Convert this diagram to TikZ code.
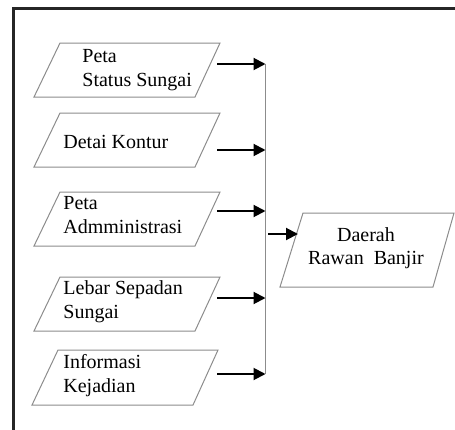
\documentclass[tikz,border=0pt]{standalone}
\usepackage{fontspec}
\setmainfont{Liberation Serif}
\usetikzlibrary{arrows.meta}
\tikzset{
  pbox/.style={draw=black!45, line width=0.5pt},
  frame/.style={draw=black!85, line width=1.1pt},
  bus/.style={draw=black!45, line width=0.5pt},
  arr/.style={draw=black, line width=1pt, -{Triangle[length=6pt,width=6pt]}},
  lbl/.style={inner sep=0pt, font=\fontsize{10}{12}\selectfont, align=left, anchor=base west},
  lblc/.style={inner sep=0pt, font=\fontsize{10}{11.5}\selectfont, align=center, anchor=base},
}
\begin{document}
\begin{tikzpicture}[x=0.5pt,y=-0.5pt]
\useasboundingbox (0,0) rectangle (455,429);
% outer frame (cropped)
\draw[frame] (456,8.5) -- (13.5,8.5) -- (13.5,430);
% input parallelograms
\draw[pbox] (60,43) -- (220,43) -- (195,97) -- (34,97) -- cycle;
\draw[pbox] (60,113) -- (220,113) -- (195,167) -- (34,167) -- cycle;
\draw[pbox] (60,192) -- (220,192) -- (195,246) -- (34,246) -- cycle;
\draw[pbox] (60,277) -- (220,277) -- (195,331) -- (34,331) -- cycle;
\draw[pbox] (58,350) -- (218,350) -- (193,405) -- (32,405) -- cycle;
% output parallelogram
\draw[pbox] (303,213) -- (454,213) -- (433,287) -- (280,287) -- cycle;
% labels (base anchor = baseline of last line)
\node[lbl] (t1) at (82,86) {Peta\\Status Sungai};
\node[lbl] (t2) at (63,148) {Detai Kontur};
\node[lbl] (t3) at (63,233) {Peta\\Admministrasi};
\node[lbl] (t4) at (63,318) {Lebar Sepadan\\Sungai};
\node[lbl] (t5) at (63,392) {Informasi\\Kejadian};
\node[lblc] (d) at (366,264) {Daerah\\Rawan\ \ Banjir};
% connector points
\coordinate (a1) at (217,64);  \coordinate (b1) at (265.5,64);
\coordinate (a2) at (217,150); \coordinate (b2) at (265.5,150);
\coordinate (a3) at (217,211); \coordinate (b3) at (265.5,211);
\coordinate (a4) at (217,298); \coordinate (b4) at (265.5,298);
\coordinate (a5) at (217,374); \coordinate (b5) at (265.5,374);
\coordinate (o1) at (268,234); \coordinate (o2) at (298,234);
% bus
\draw[bus] (b1) -- (b5);
% arrows
\draw[arr] (a1) -- (b1);
\draw[arr] (a2) -- (b2);
\draw[arr] (a3) -- (b3);
\draw[arr] (a4) -- (b4);
\draw[arr] (a5) -- (b5);
\draw[arr] (o1) -- (o2);
\end{tikzpicture}
\end{document}
